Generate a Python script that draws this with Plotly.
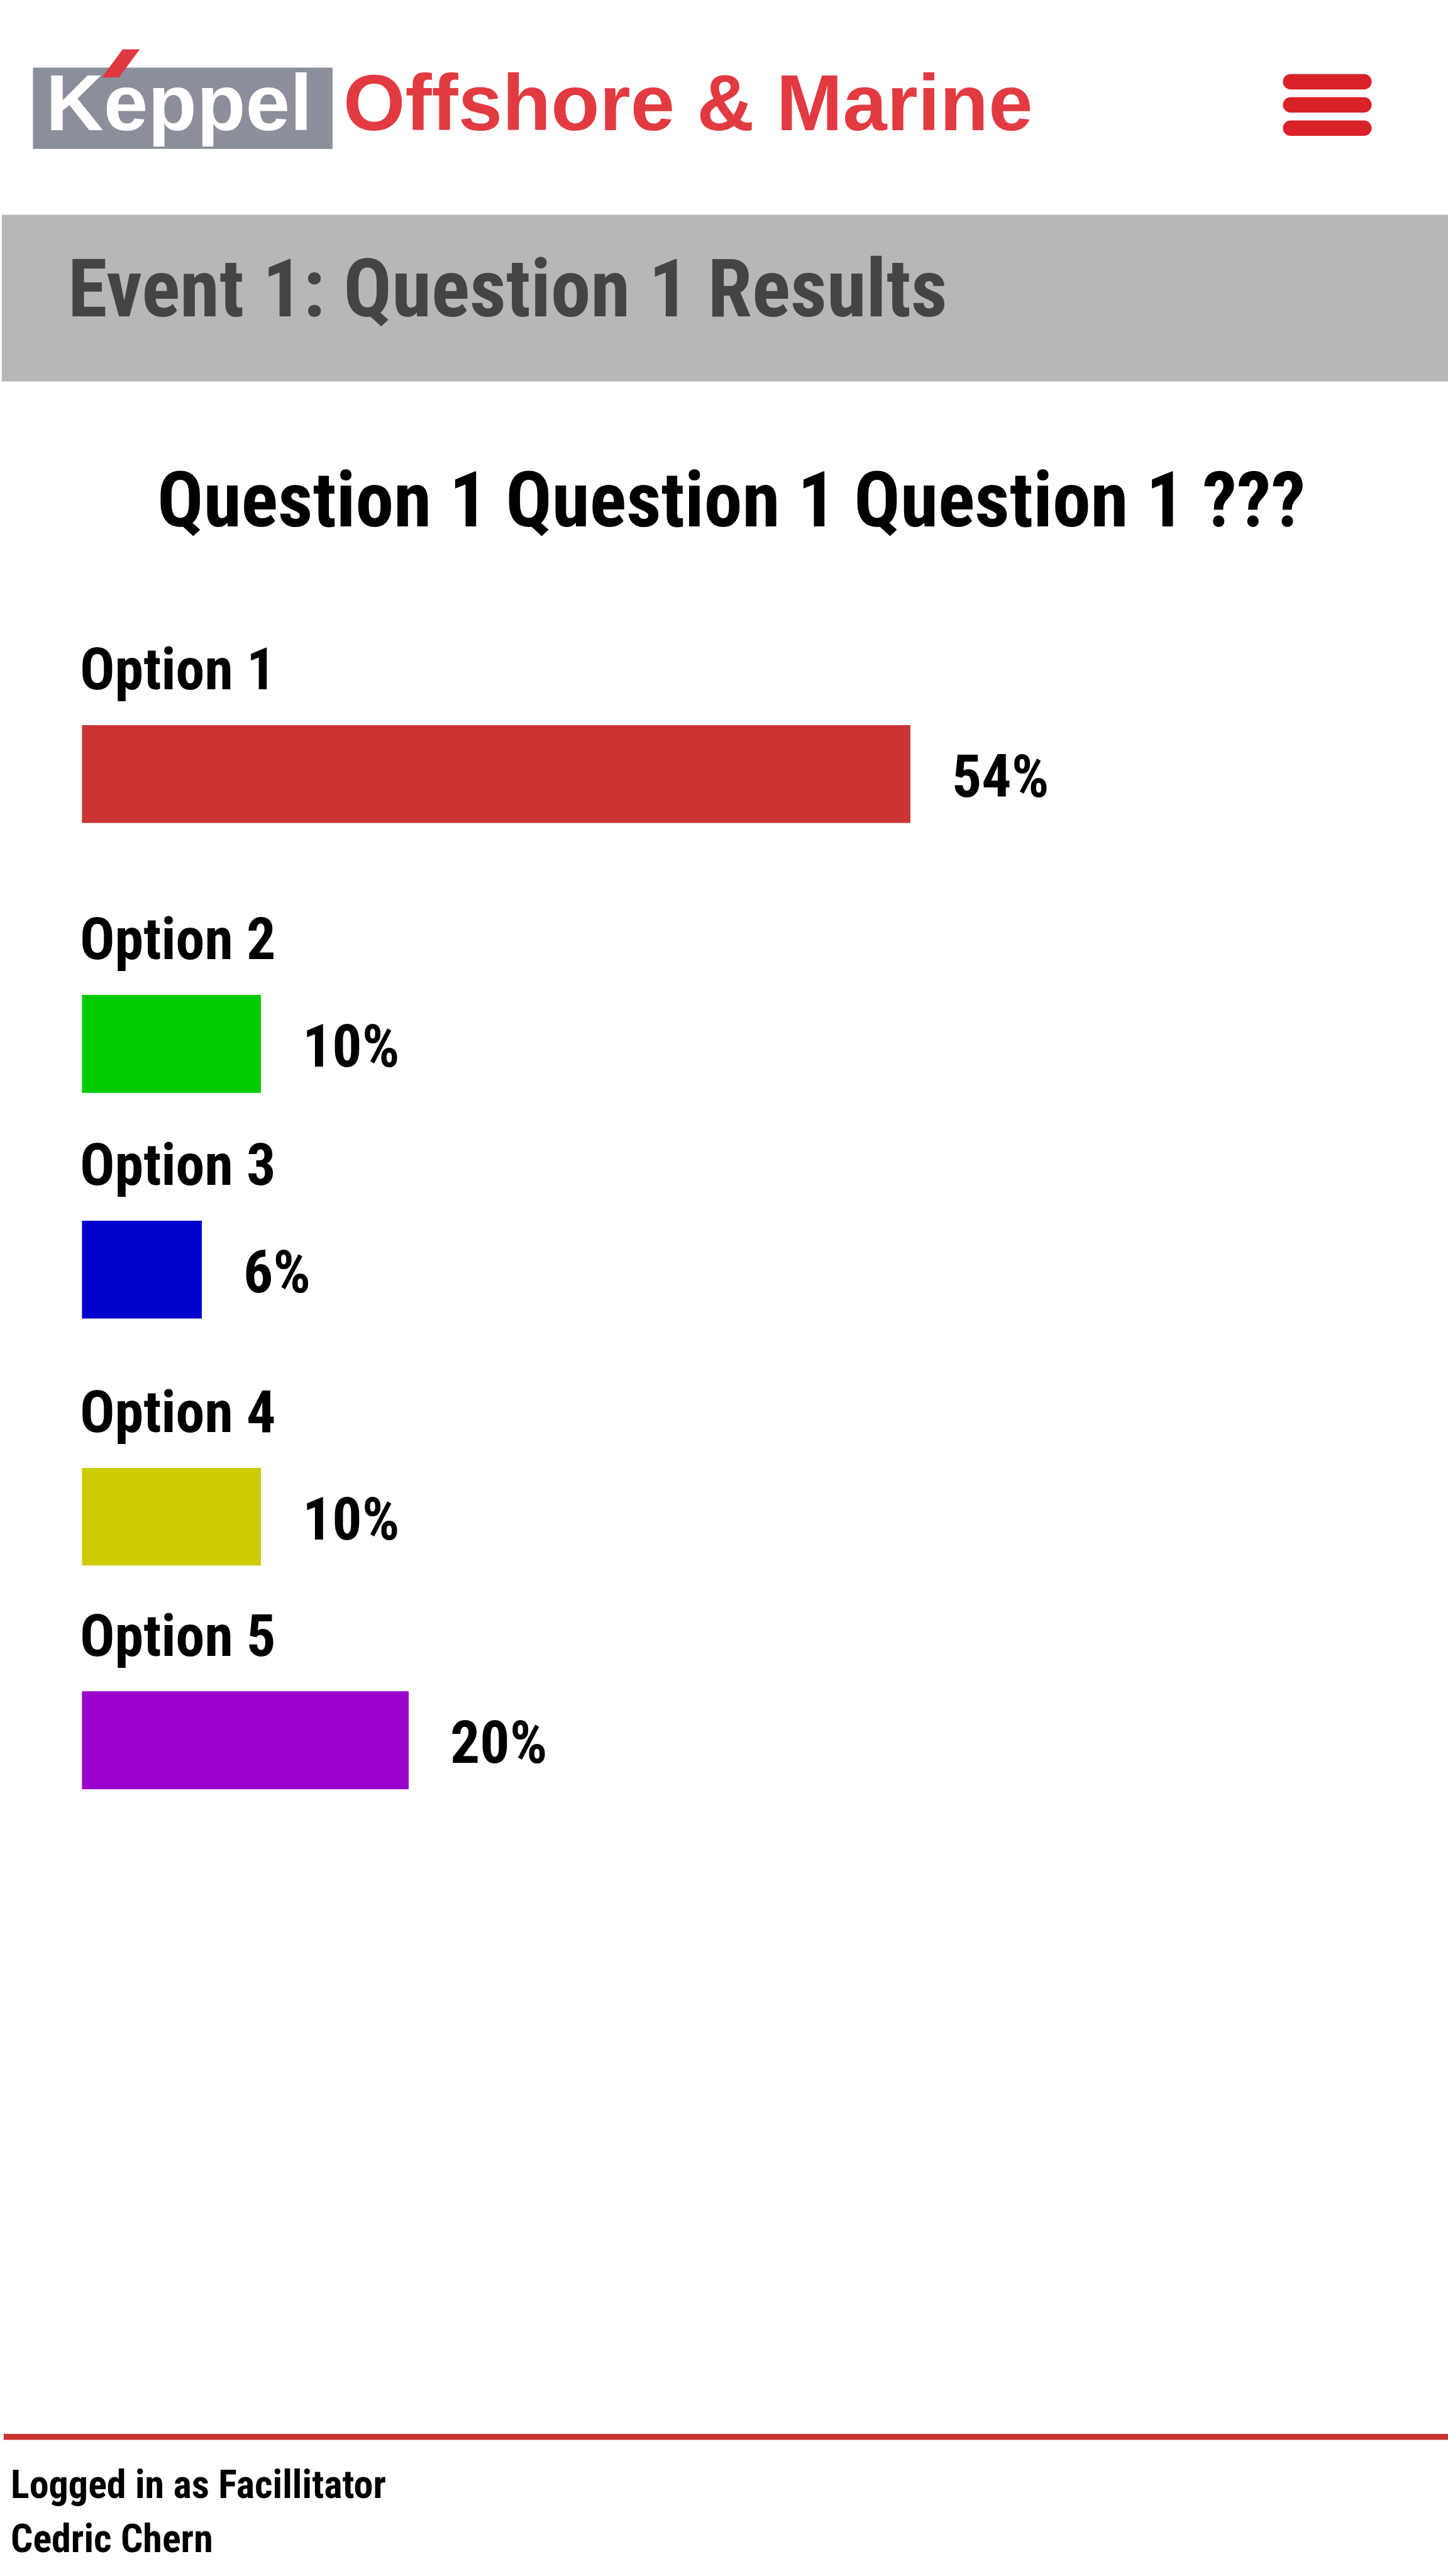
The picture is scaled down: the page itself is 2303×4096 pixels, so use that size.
import plotly.graph_objects as go

# ---------------- data ----------------
options = ["Option 1", "Option 2", "Option 3", "Option 4", "Option 5"]
percent = [54, 10, 6, 10, 20]
percent_labels = ["54%", "10%", "6%", "10%", "20%"]
bar_colors = ["#cc3333", "#00cc00", "#0000cc", "#cccc00", "#9900cc"]

page_title = "Event 1: Question 1 Results"
question_text = "Question 1 Question 1 Question 1 ???"
brand_box_text = "Keppel"
brand_text = "Offshore & Marine"
footer_lines = ["Logged in as Facillitator", "Cedric Chern"]

# ---------------- layout constants (output pixels) ----------------
W, H = 2303, 4096
NARROW = "Roboto Condensed, Open Sans Condensed, DejaVu Sans Condensed, sans-serif"
WIDE = "Liberation Sans, Arial, sans-serif"

BAR_TOP = [1152.8, 1582.1, 1940.8, 2333.6, 2689.3]
BAR_H = 155.6
X0 = 130.4           # left edge of bars
PX_PER_UNIT = 23.48  # pixels per percent
STUB_PX = 50.0       # constant stub every bar starts with
STUB = STUB_PX / PX_PER_UNIT
X_MAX = (W - X0) / PX_PER_UNIT

MID_WIDE = 0.3465    # (ascent - descent)/2 in em, Liberation Sans
MID_NARROW = 0.342   # same for Roboto Condensed


def px(x):
    return x / W


def py(y):
    return 1 - y / H


def text_ann(text, x, baseline, size, color, family, mid, xanchor="left"):
    return dict(
        text=text, x=px(x), y=py(baseline - mid * size),
        xref="paper", yref="paper", xanchor=xanchor, yanchor="middle",
        showarrow=False, borderpad=0, borderwidth=0,
        font=dict(family=family, size=size, color=color, weight=700),
    )


def rect(x0, y0, x1, y1, color):
    return dict(type="rect", xref="paper", yref="paper",
                x0=px(x0), x1=px(x1), y0=py(y1), y1=py(y0),
                fillcolor=color, line=dict(width=0), layer="below")


def pill(x0, y0, x1, y1, color):
    r = (y1 - y0) / 2
    k = 0.5523 * r
    yc = (y0 + y1) / 2
    pts = [
        ("M", [(x0 + r, y0)]),
        ("L", [(x1 - r, y0)]),
        ("C", [(x1 - r + k, y0), (x1, yc - k), (x1, yc)]),
        ("C", [(x1, yc + k), (x1 - r + k, y1), (x1 - r, y1)]),
        ("L", [(x0 + r, y1)]),
        ("C", [(x0 + r - k, y1), (x0, yc + k), (x0, yc)]),
        ("C", [(x0, yc - k), (x0 + r - k, y0), (x0 + r, y0)]),
    ]
    d = ""
    for cmd, ps in pts:
        d += cmd + " " + " ".join(f"{px(a):.6f},{py(b):.6f}" for a, b in ps) + " "
    d += "Z"
    return dict(type="path", xref="paper", yref="paper", path=d,
                fillcolor=color, line=dict(width=0), layer="above")


def poly(points, color):
    d = "M " + " L ".join(f"{px(a):.6f},{py(b):.6f}" for a, b in points) + " Z"
    return dict(type="path", xref="paper", yref="paper", path=d,
                fillcolor=color, line=dict(width=0), layer="above")


fig = go.Figure()
layout = dict(
    width=W, height=H, autosize=False,
    margin=dict(l=0, r=0, t=0, b=0, pad=0),
    paper_bgcolor="white", plot_bgcolor="rgba(0,0,0,0)",
    showlegend=False, barmode="stack", bargap=0,
)

annotations = []
for i, (opt, val, lab, col) in enumerate(zip(options, percent, percent_labels, bar_colors)):
    n = "" if i == 0 else str(i + 1)
    xa, ya = "x" + n, "y" + n
    top = BAR_TOP[i]
    layout["xaxis" + n] = dict(domain=[px(X0), 1], range=[0, X_MAX], visible=False,
                               fixedrange=True, anchor=ya)
    layout["yaxis" + n] = dict(domain=[py(top + BAR_H), py(top)], range=[-0.5, 0.5],
                               visible=False, fixedrange=True, anchor=xa)
    fig.add_trace(go.Bar(x=[STUB], y=[0], orientation="h", width=1,
                         marker=dict(color=col, line=dict(width=0)),
                         xaxis=xa, yaxis=ya, hoverinfo="skip"))
    fig.add_trace(go.Bar(x=[val], y=[0], orientation="h", width=1,
                         marker=dict(color=col, line=dict(width=0)),
                         xaxis=xa, yaxis=ya, hoverinfo="skip"))
    # option label above the bar
    annotations.append(text_ann(opt, 126.6, top - 56.7, 92.1, "#000000", NARROW, MID_NARROW))
    # percentage label after the bar end
    size = 93.7
    annotations.append(dict(
        text=lab, x=STUB + val, xref=xa, xanchor="left", xshift=66,
        y=py(top + 114 - MID_NARROW * size), yref="paper", yanchor="middle",
        showarrow=False, borderpad=0, borderwidth=0,
        font=dict(family=NARROW, size=size, color="#000000", weight=700)))

# header / titles / footer texts
annotations.append(text_ann(brand_box_text, 73, 206.8, 127, "#ffffff", WIDE, MID_WIDE))
annotations.append(text_ann(brand_text, 546, 206.7, 126.5, "#e23a41", WIDE, MID_WIDE))
annotations.append(text_ann(page_title, 108, 503.4, 127.5, "#444444", NARROW, MID_NARROW))
annotations.append(text_ann(question_text, 1163, 837.6, 122, "#000000", NARROW, MID_NARROW,
                            xanchor="center"))
annotations.append(text_ann(footer_lines[0], 17, 3972.2, 62.1, "#000000", NARROW, MID_NARROW))
annotations.append(text_ann(footer_lines[1], 17, 4057.6, 62.1, "#000000", NARROW, MID_NARROW))

shapes = [
    rect(52.4, 107.5, 528.9, 236.8, "#8a8f9b"),
    poly([(195.0, 78.5), (222.3, 78.5), (189.2, 123.1), (162.2, 123.1)], "#e0383f"),
    pill(2040.4, 117.8, 2181.6, 142.2, "#d92128"),
    pill(2040.4, 154.6, 2181.6, 179.0, "#d92128"),
    pill(2040.4, 191.4, 2181.6, 215.9, "#d92128"),
    rect(2.9, 341.0, W, 606.5, "#b7b7b7"),
    rect(2.9, 341.0, W, 342.2, "#d2d2d2"),
    rect(5.9, 3870.0, W, 3879.4, "#cc3333"),
]

layout["annotations"] = annotations
layout["shapes"] = shapes
fig.update_layout(**layout)

fig.write_html("out.html", include_plotlyjs=True,
               config={"displayModeBar": False},
               post_script="document.body.style.margin='0';")
